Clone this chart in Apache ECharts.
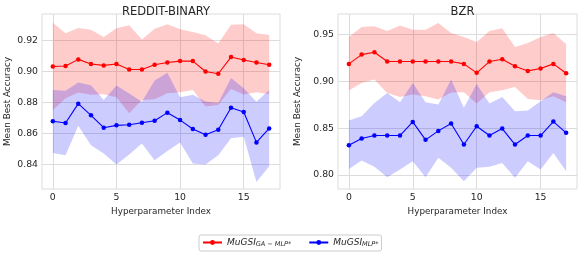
<!DOCTYPE html>
<html>
<head>
<meta charset="utf-8">
<script src="https://cdn.jsdelivr.net/npm/echarts@6/dist/echarts.min.js"></script>
<style>html,body{margin:0;padding:0;background:#fff}#c{width:581px;height:254px}</style>
</head>
<body>
<div id="c"></div>
<script>
const hyperIdx = [0,1,2,3,4,5,6,7,8,9,10,11,12,13,14,15,16,17];
const xTicks = [0,5,10,15];

// REDDIT-BINARY
const redditGaMean  = [0.9031,0.9034,0.9077,0.9047,0.9038,0.9047,0.9012,0.9012,0.9042,0.9057,0.9066,0.9066,0.8999,0.8984,0.9092,0.9073,0.9057,0.9042];
const redditGaUpper = [0.9313,0.9245,0.9280,0.9269,0.9222,0.9278,0.9297,0.9206,0.9274,0.9304,0.9272,0.9254,0.9232,0.9180,0.9300,0.9304,0.9245,0.9234];
const redditGaLower = [0.8750,0.8826,0.8863,0.8848,0.8852,0.8833,0.8729,0.8815,0.8820,0.8859,0.8865,0.8880,0.8772,0.8783,0.8885,0.8850,0.8865,0.8852];
const redditMlpMean  = [0.8677,0.8666,0.8791,0.8716,0.8636,0.8651,0.8655,0.8668,0.8681,0.8733,0.8685,0.8627,0.8590,0.8622,0.8765,0.8737,0.8541,0.8631];
const redditMlpUpper = [0.8880,0.8874,0.8927,0.8910,0.8815,0.8908,0.8856,0.8804,0.8940,0.8990,0.8833,0.8848,0.8805,0.8795,0.8956,0.8890,0.8804,0.8880];
const redditMlpLower = [0.8473,0.8458,0.8648,0.8523,0.8469,0.8398,0.8463,0.8534,0.8426,0.8486,0.8541,0.8404,0.8398,0.8458,0.8567,0.8577,0.8285,0.8387];
const redditYTicks = [0.84,0.86,0.88,0.90,0.92];

// BZR
const bzrGaMean  = [0.9187,0.9286,0.9311,0.9212,0.9212,0.9212,0.9212,0.9212,0.9212,0.9187,0.9091,0.9212,0.9236,0.9161,0.9112,0.9137,0.9187,0.9087];
const bzrGaUpper = [0.9475,0.9582,0.9589,0.9539,0.9596,0.9553,0.9553,0.9625,0.9518,0.9475,0.9422,0.9539,0.9567,0.9368,0.9411,0.9475,0.9518,0.9400];
const bzrGaLower = [0.8902,0.8984,0.9019,0.8877,0.8834,0.8859,0.8841,0.8806,0.8880,0.8884,0.8763,0.8884,0.8905,0.8941,0.8813,0.8798,0.8841,0.8777];
const bzrMlpMean  = [0.8317,0.8390,0.8421,0.8421,0.8421,0.8567,0.8375,0.8471,0.8549,0.8325,0.8520,0.8421,0.8496,0.8325,0.8421,0.8421,0.8570,0.8450];
const bzrMlpUpper = [0.8581,0.8627,0.8770,0.8877,0.8777,0.8984,0.8777,0.8752,0.9019,0.8717,0.8973,0.8763,0.8834,0.8681,0.8688,0.8788,0.8884,0.8841];
const bzrMlpLower = [0.8065,0.8154,0.8087,0.7976,0.8058,0.8146,0.7976,0.8183,0.8076,0.7933,0.8076,0.8087,0.8129,0.7969,0.8146,0.8058,0.8236,0.8040];
const bzrYTicks = [0.80,0.85,0.90,0.95];

const FONT = 'DejaVu Sans';
const TXT = '#262626';
const GRIDC = '#dcdcdc';
const RED = '#ff0000', BLUE = '#0000ff';

function pairs(arr){ return hyperIdx.map((x,i)=>[x, arr[i]]); }

function band(gi, lo, up, color){
  return {type:'custom', xAxisIndex:gi, yAxisIndex:gi, silent:true, z:1,
    data: hyperIdx.map((x,i)=>[x, lo[i], up[i]]),
    encode:{x:0, y:[1,2]},
    renderItem:(params, api)=>{
      if (params.dataIndex !== 0) return null;
      const pts = [];
      for (let i=0;i<hyperIdx.length;i++) pts.push(api.coord([hyperIdx[i], up[i]]));
      for (let i=hyperIdx.length-1;i>=0;i--) pts.push(api.coord([hyperIdx[i], lo[i]]));
      return {type:'polygon', shape:{points:pts}, style:{fill:color, stroke:null}};
    }};
}
function meanLine(gi, name, arr, color){
  return {type:'line', name:name, xAxisIndex:gi, yAxisIndex:gi, data:pairs(arr), symbol:'circle', symbolSize:4.5,
    itemStyle:{color:color}, lineStyle:{color:color, width:1.1}, z:3};
}
function xAxis(gi){
  return {gridIndex:gi, type:'value', min:-0.85, max:17.85,
    axisLabel:{customValues:xTicks, fontSize:9.3, color:TXT, fontFamily:FONT, margin:4},
    axisTick:{show:false, customValues:xTicks},
    axisLine:{show:false},
    splitLine:{show:true, lineStyle:{color:GRIDC, width:1}},
    name:'Hyperparameter Index', nameLocation:'middle', nameGap:17,
    nameTextStyle:{fontSize:8.8, color:TXT, fontFamily:FONT}};
}
function yAxis(gi, min, max, ticks, gap){
  return {gridIndex:gi, type:'value', min:min, max:max,
    axisLabel:{customValues:ticks, fontSize:9.3, color:TXT, fontFamily:FONT, margin:4, formatter:v=>v.toFixed(2)},
    axisTick:{show:false, customValues:ticks},
    axisLine:{show:false},
    splitLine:{show:true, lineStyle:{color:GRIDC, width:1}},
    name:'Mean Best Accuracy', nameLocation:'middle', nameRotate:90, nameGap:gap,
    nameTextStyle:{fontSize:8.8, color:TXT, fontFamily:FONT}};
}

const chart = echarts.init(document.getElementById('c'), null, {renderer:'canvas'});
chart.setOption({
  animation:false,
  backgroundColor:'#ffffff',
  title:[
    {text:'REDDIT-BINARY', left:161, top:1, textAlign:'center', textStyle:{fontSize:11.5, fontWeight:'normal', color:TXT, fontFamily:FONT}},
    {text:'BZR', left:457.5, top:1, textAlign:'center', textStyle:{fontSize:11.5, fontWeight:'normal', color:TXT, fontFamily:FONT}}
  ],
  grid:[
    {left:42, right:301, top:14, bottom:65, show:true, borderColor:GRIDC, borderWidth:1, backgroundColor:'#fff'},
    {left:338, right:4, top:14, bottom:65, show:true, borderColor:GRIDC, borderWidth:1, backgroundColor:'#fff'}
  ],
  xAxis:[xAxis(0), xAxis(1)],
  yAxis:[yAxis(0, 0.824, 0.937, redditYTicks, 30), yAxis(1, 0.785, 0.972, bzrYTicks, 36)],
  legend:{
    data:['ga','mlp'], left:199, top:235, orient:'horizontal',
    padding:[3,3,3,3], itemGap:17, itemWidth:19, itemHeight:6,
    borderColor:'#cccccc', borderWidth:1, borderRadius:2, backgroundColor:'#fff',
    formatter: n => n==='ga' ? '{m|MuGSI}{s|GA − MLP*}' : '{m|MuGSI}{s|MLP*}',
    textStyle:{color:TXT, fontFamily:FONT, padding:[0,0,0,0],
      rich:{
        m:{fontSize:9, fontStyle:'italic', fontFamily:FONT, color:TXT},
        s:{fontSize:6.5, fontStyle:'italic', fontFamily:FONT, color:TXT, padding:[4,0,0,0]}
      }}
  },
  series:[
    band(0,redditGaLower,redditGaUpper,'rgba(255,0,0,0.2)'),
    band(0,redditMlpLower,redditMlpUpper,'rgba(0,0,255,0.2)'),
    band(1,bzrGaLower,bzrGaUpper,'rgba(255,0,0,0.2)'),
    band(1,bzrMlpLower,bzrMlpUpper,'rgba(0,0,255,0.2)'),
    meanLine(0,'ga',redditGaMean,RED),
    meanLine(0,'mlp',redditMlpMean,BLUE),
    meanLine(1,'ga',bzrGaMean,RED),
    meanLine(1,'mlp',bzrMlpMean,BLUE)
  ]
});
</script>
</body>
</html>
